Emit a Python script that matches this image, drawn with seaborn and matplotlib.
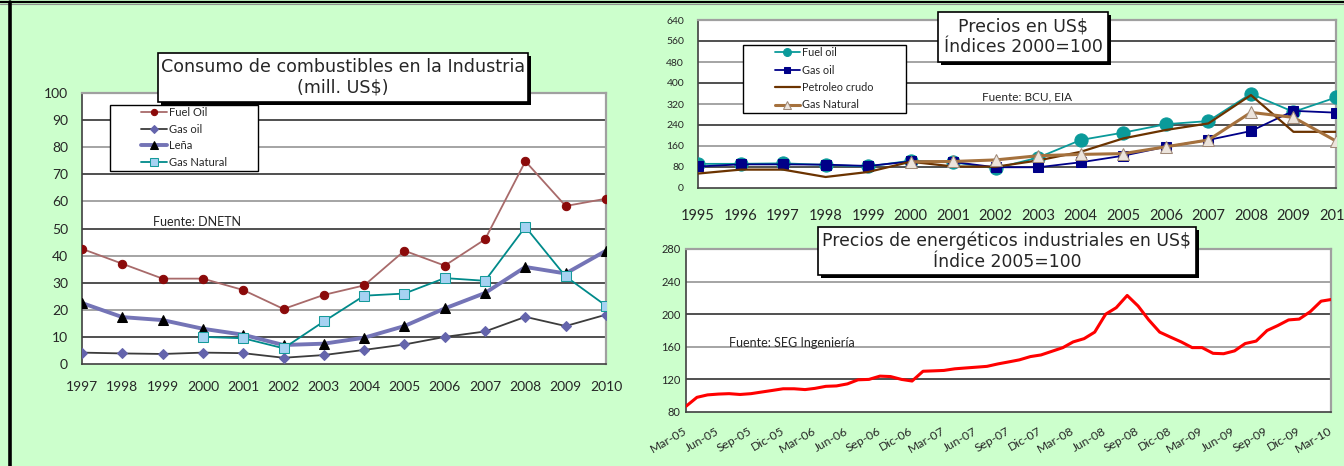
import numpy as np
import pandas as pd
import matplotlib
matplotlib.use("Agg")
import matplotlib.pyplot as plt
import seaborn as sns
from matplotlib.patches import Rectangle
from matplotlib.lines import Line2D
import matplotlib.patheffects as pe

nan = np.nan

# ---------------- data ----------------
cons_years = list(range(1997, 2011))
fuel_oil_cons = [42.5, 37.0, 31.5, 31.5, 27.3, 20.3, 25.5, 29.0, 41.8, 36.3, 46.0, 74.8, 58.3, 61.0]
gas_oil_cons = [4.2, 3.9, 3.7, 4.2, 4.0, 2.3, 3.3, 5.2, 7.2, 10.0, 12.0, 17.4, 14.0, 18.2]
lena_cons = [22.5, 17.3, 16.2, 13.0, 10.8, 7.0, 7.5, 9.7, 14.0, 20.5, 26.2, 35.8, 33.4, 41.8]
gas_nat_cons = [nan, nan, nan, 10.0, 9.5, 5.8, 15.7, 25.2, 26.0, 31.7, 30.7, 50.6, 32.3, 21.5]

price_years = list(range(1995, 2011))
fuel_oil_idx = [92, 92, 94, 88, 82, 104, 98, 75, 116, 183, 211, 243, 255, 359, 290, 345]
gas_oil_idx = [82, 90, 90, 89, 84, 101, 99, 79, 79, 98, 123, 157, 183, 217, 294, 287]
crudo_idx = [55, 70, 70, 42, 61, 100, 82, 81, 105, 138, 189, 221, 246, 354, 214, 214]
gas_nat_idx = [nan, nan, nan, nan, nan, 100, 101, 107, 123, 128, 131, 157, 183, 288, 269, 179]

energ_start = "2005-03-01"
energ_idx = [87, 98, 101, 102, 102.5, 101.5, 102.5, 104.5, 106.5, 108.5,
             108.5, 107.5, 109, 111.5, 112, 114.5, 119.5, 120, 124, 123.5,
             120, 118, 130, 130.5, 131, 133, 134, 135, 136, 139,
             141.5, 144, 148, 150, 154.5, 159, 166, 170, 178, 200,
             208, 223, 210, 193, 178, 172, 166, 159, 159, 152,
             151.5, 155, 164, 167, 180, 186, 193, 194, 203, 216, 218]
energ_ticklabels = ["Mar-05", "Jun-05", "Sep-05", "Dic-05", "Mar-06", "Jun-06", "Sep-06",
                    "Dic-06", "Mar-07", "Jun-07", "Sep-07", "Dic-07", "Mar-08", "Jun-08",
                    "Sep-08", "Dic-08", "Mar-09", "Jun-09", "Sep-09", "Dic-09", "Mar-10"]

# ---------------- style ----------------
sns.set_style("white")
plt.rcParams["font.family"] = ["Lato", "DejaVu Sans"]
TITLE_FONT = ["DejaVu Sans"]

W, H = 1344, 466
BG = "#CCFFCC"
fig = plt.figure(figsize=(W / 100, H / 100), dpi=100, facecolor=BG)


def fx(px):
    return px / W


def fy(py):
    return 1 - py / H


def make_ax(x0, y0, x1, y1):
    ax = fig.add_axes([fx(x0), fy(y1), (x1 - x0) / W, (y1 - y0) / H])
    ax.set_facecolor("white")
    for s in ["left", "bottom"]:
        ax.spines[s].set_color("#404040")
        ax.spines[s].set_linewidth(1.2)
    for s in ["top", "right"]:
        ax.spines[s].set_color("#A0A0A0")
        ax.spines[s].set_linewidth(1.6)
    return ax


def grid(ax, values):
    for i, v in enumerate(values):
        ax.axhline(v, color=("#202020" if i % 2 == 0 else "#8C8C8C"), lw=1.1, zorder=1)


def title_box(x0, y0, x1, y1, lines, size):
    r = Rectangle((fx(x0), fy(y1)), (x1 - x0) / W, (y1 - y0) / H, transform=fig.transFigure,
                  fc="white", ec="black", lw=1.2, zorder=10,
                  path_effects=[pe.SimplePatchShadow(offset=(2.5, -2.5), shadow_rgbFace="black", alpha=1.0),
                                pe.Normal()])
    fig.add_artist(r)
    fig.text(fx((x0 + x1) / 2), fy((y0 + y1) / 2), "\n".join(lines), ha="center", va="center",
             fontsize=size, zorder=11, linespacing=1.2, family=TITLE_FONT)


def legend_box(ax, x0, y0, x1, y1):
    r = Rectangle((fx(x0), fy(y1)), (x1 - x0) / W, (y1 - y0) / H, transform=fig.transFigure,
                  fc="white", ec="black", lw=1.0, zorder=4.5, clip_on=False)
    ax.add_patch(r)


# ---------------- left chart ----------------
ax1 = make_ax(82, 93, 606, 364)
grid(ax1, list(range(10, 100, 10)))
sns.lineplot(x=cons_years, y=fuel_oil_cons, ax=ax1, color="#A86A6A", lw=1.3, marker="o",
             markersize=6, markerfacecolor="#8B0A0A", markeredgecolor="#8B0A0A", label="Fuel Oil",
             estimator=None, zorder=3)
sns.lineplot(x=cons_years, y=gas_oil_cons, ax=ax1, color="#3C3C3C", lw=1.3, marker="D",
             markersize=5.5, markerfacecolor="#6464AC", markeredgecolor="#6464AC", label="Gas oil",
             estimator=None, zorder=3)
sns.lineplot(x=cons_years, y=lena_cons, ax=ax1, color="#7474B6", lw=2.8, marker="^",
             markersize=7, markerfacecolor="black", markeredgecolor="black", label="Leña",
             estimator=None, zorder=3)
sns.lineplot(x=cons_years, y=gas_nat_cons, ax=ax1, color="#008A8A", lw=1.3, marker="s",
             markersize=7, markerfacecolor="#A6D2F2", markeredgecolor="#159A9A", label="Gas Natural",
             estimator=None, zorder=3)
ax1.set_xlim(1997, 2010)
ax1.set_ylim(0, 100)
ax1.set_xticks(cons_years)
ax1.set_yticks(list(range(0, 101, 10)))
ax1.tick_params(axis="x", labelsize=10, pad=8, direction="out", length=4, color="#404040")
ax1.tick_params(axis="y", labelsize=10, pad=6, direction="out", length=4, color="#404040")
ax1.set_xlabel("")
ax1.set_ylabel("")
legend_box(ax1, 110, 105, 258, 171)
ax1.legend(loc="upper left", bbox_to_anchor=(fx(141), fy(107)), bbox_transform=fig.transFigure,
           frameon=False, fontsize=8, handlelength=2.3, handletextpad=0.25, borderpad=0,
           labelspacing=0.5, borderaxespad=0, markerscale=0.75)
fig.text(fx(153), fy(222), "Fuente: DNETN", fontsize=9, ha="left", va="center", zorder=6)
title_box(158, 53, 528, 102, ["Consumo de combustibles en la Industria", "(mill. US$)"], 12.6)

# ---------------- top-right chart ----------------
ax2 = make_ax(698, 20, 1336, 188)
grid(ax2, list(range(80, 640, 80)))
sns.lineplot(x=price_years, y=fuel_oil_idx, ax=ax2, color="#0A9A9A", lw=1.3, marker="o",
             markersize=9.5, markerfacecolor="#0A9A9A", markeredgecolor="#0A9A9A", label="Fuel oil",
             estimator=None, zorder=3)
sns.lineplot(x=price_years, y=gas_oil_idx, ax=ax2, color="#000088", lw=1.3, marker="s",
             markersize=7.5, markerfacecolor="#000088", markeredgecolor="#000088", label="Gas oil",
             estimator=None, zorder=3)
sns.lineplot(x=price_years, y=crudo_idx, ax=ax2, color="#6B3300", lw=1.6, label="Petroleo crudo",
             estimator=None, zorder=3)
sns.lineplot(x=price_years, y=gas_nat_idx, ax=ax2, color="#A5713D", lw=2.2, marker="^",
             markersize=8.5, markerfacecolor="#ECE4DC", markeredgecolor="#A08A78", label="Gas Natural",
             estimator=None, zorder=3)
ax2.set_xlim(1995, 2010)
ax2.set_ylim(0, 640)
ax2.set_xticks(price_years)
ax2.set_yticks(list(range(0, 641, 80)))
ax2.tick_params(axis="x", labelsize=10.5, pad=11, direction="out", length=4, color="#404040")
ax2.tick_params(axis="y", labelsize=7.5, pad=10, direction="out", length=0)
ax2.set_xlabel("")
ax2.set_ylabel("")
legend_box(ax2, 743, 45, 906, 113)
ax2.legend(loc="upper left", bbox_to_anchor=(fx(775), fy(47)), bbox_transform=fig.transFigure,
           frameon=False, fontsize=7.8, handlelength=2.3, handletextpad=0.2, borderpad=0,
           labelspacing=0.6, borderaxespad=0, markerscale=0.6)
fig.text(fx(982), fy(97), "Fuente: BCU, EIA", fontsize=8.5, ha="left", va="center", zorder=6)
title_box(938, 12, 1108, 62, ["Precios en US$", "Índices 2000=100"], 12.5)

# ---------------- bottom-right chart ----------------
ax3 = make_ax(686, 249, 1331, 412)
grid(ax3, list(range(120, 280, 40)))
dates = pd.date_range(energ_start, periods=len(energ_idx), freq="MS")
sns.lineplot(x=dates, y=energ_idx, ax=ax3, color="#FF0000", lw=2.2, estimator=None, zorder=3)
ax3.set_xlim(dates[0], dates[-1])
ax3.set_ylim(80, 280)
ax3.set_yticks(list(range(80, 281, 40)))
ticks = pd.date_range(dates[0], dates[-1], freq="3MS")
ax3.set_xticks(ticks)
ax3.set_xticklabels(energ_ticklabels, rotation=30, ha="right", va="center", rotation_mode="anchor")
ax3.tick_params(axis="x", labelsize=8.7, pad=13, direction="in", length=3, color="#404040")
ax3.tick_params(axis="y", labelsize=8, pad=4, direction="out", length=0)
ax3.set_xlabel("")
ax3.set_ylabel("")
fig.text(fx(729), fy(343), "Fuente: SEG Ingeniería", fontsize=9, ha="left", va="center", zorder=6)
title_box(818, 227, 1196, 275, ["Precios de energéticos industriales en US$", "Índice 2005=100"], 12.4)

# ---------------- outer frame ----------------
fig.add_artist(Line2D([0, 1], [fy(2), fy(2)], transform=fig.transFigure, color="black", lw=1.6))
fig.add_artist(Line2D([0, 1], [fy(4), fy(4)], transform=fig.transFigure, color="#909090", lw=0.8))
fig.add_artist(Line2D([fx(10), fx(10)], [0, fy(2)], transform=fig.transFigure, color="black", lw=2.6))

fig.savefig("out.png", dpi=100, facecolor=BG)
